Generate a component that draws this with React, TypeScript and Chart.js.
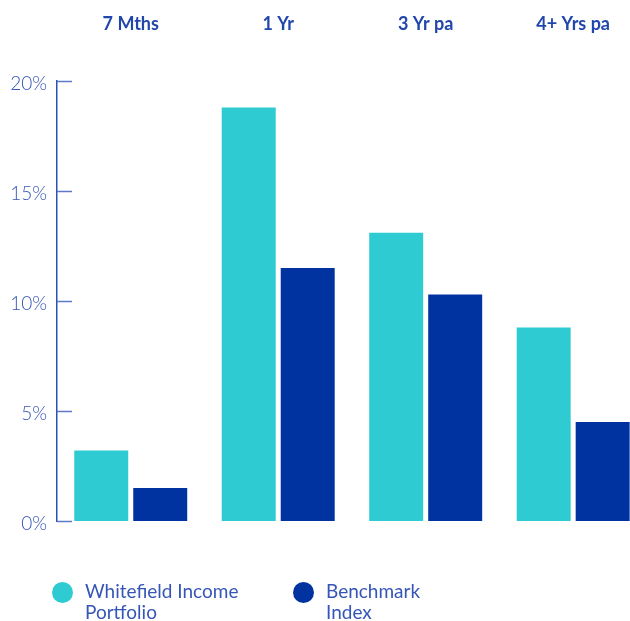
import React, { useEffect, useRef } from "react";
import { Chart, registerables } from "chart.js";

Chart.register(...registerables);

const categories = ["7 Mths", "1 Yr", "3 Yr pa", "4+ Yrs pa"];
const portfolioValues = [3.2, 18.8, 13.1, 8.8];
const benchmarkValues = [1.5, 11.5, 10.3, 4.5];
const seriesNames = ["Whitefield Income Portfolio", "Benchmark Index"];
const legendLines = [["Whitefield Income", "Portfolio"], ["Benchmark", "Index"]];
const yTicks = [0, 5, 10, 15, 20];

const TEAL = "#2ECCD2";
const NAVY = "#0033A0";
const AXIS = "#2A50B8";
const LABEL = "#3556B6";
const FONT = "Lato, 'Open Sans', sans-serif";

const innerTicks = {
  id: "innerTicks",
  afterDraw(chart: any) {
    const y = chart.scales.y;
    const ctx = chart.ctx;
    const left = chart.chartArea.left;
    ctx.save();
    ctx.strokeStyle = "#5C78C6";
    ctx.lineWidth = 1.5;
    for (const t of y.ticks) {
      const py = Math.round(y.getPixelForValue(t.value)) + 0.5;
      ctx.beginPath();
      ctx.moveTo(left, py);
      ctx.lineTo(left + 15, py);
      ctx.stroke();
    }
    ctx.restore();
  },
};

export default function App() {
  const ref = useRef<HTMLCanvasElement>(null);
  useEffect(() => {
    if (!ref.current) return;
    const chart = new Chart(ref.current, {
      type: "bar",
      data: {
        labels: categories,
        datasets: [
          { label: seriesNames[0], data: portfolioValues, backgroundColor: TEAL, categoryPercentage: 0.8, barPercentage: 0.915 },
          { label: seriesNames[1], data: benchmarkValues, backgroundColor: NAVY, categoryPercentage: 0.8, barPercentage: 0.915 },
        ],
      },
      options: {
        animation: false,
        responsive: false,
        maintainAspectRatio: false,
        layout: { padding: { left: 0, right: 0, top: 0, bottom: 100 } },
        plugins: { legend: { display: false }, tooltip: { enabled: false } },
        scales: {
          x: {
            position: "top",
            grid: { display: false, drawTicks: false },
            border: { display: false },
            ticks: { padding: 46, color: "#2146AC", font: { family: FONT, size: 18, weight: "bold" } },
            afterFit: (s: any) => { s.height = 81; },
          },
          y: {
            min: 0,
            max: 20,
            afterBuildTicks: (s: any) => { s.ticks = yTicks.map((v) => ({ value: v })); },
            grid: { display: false, drawTicks: false },
            border: { display: true, color: AXIS, width: 1.5 },
            ticks: {
              padding: 10,
              labelOffset: 3,
              color: LABEL,
              font: { family: FONT, size: 19, weight: "300" },
              callback: (v: any) => v + "%",
            },
            afterFit: (s: any) => { s.width = 57; },
          },
        },
      },
      plugins: [innerTicks],
    });
    return () => chart.destroy();
  }, []);

  const colors = [TEAL, NAVY];
  const legendX = [52, 293];
  return (
    <div style={{ position: "fixed", left: 0, top: 0, width: 630, height: 621, overflow: "hidden", background: "#fff" }}>
      <canvas ref={ref} width={656} height={621} style={{ width: 656, height: 621, display: "block" }} />
      {legendLines.map((lines, i) => (
        <div key={i} style={{ position: "absolute", left: legendX[i], top: 580, display: "flex", alignItems: "flex-start" }}>
          <div style={{ width: 21, height: 21, borderRadius: "50%", background: colors[i], marginTop: 2 }} />
          <div style={{ marginLeft: 12, fontFamily: FONT, fontSize: 19, lineHeight: "21px", color: LABEL, fontWeight: 400 }}>
            {lines.map((l, j) => (<div key={j}>{l}</div>))}
          </div>
        </div>
      ))}
    </div>
  );
}
